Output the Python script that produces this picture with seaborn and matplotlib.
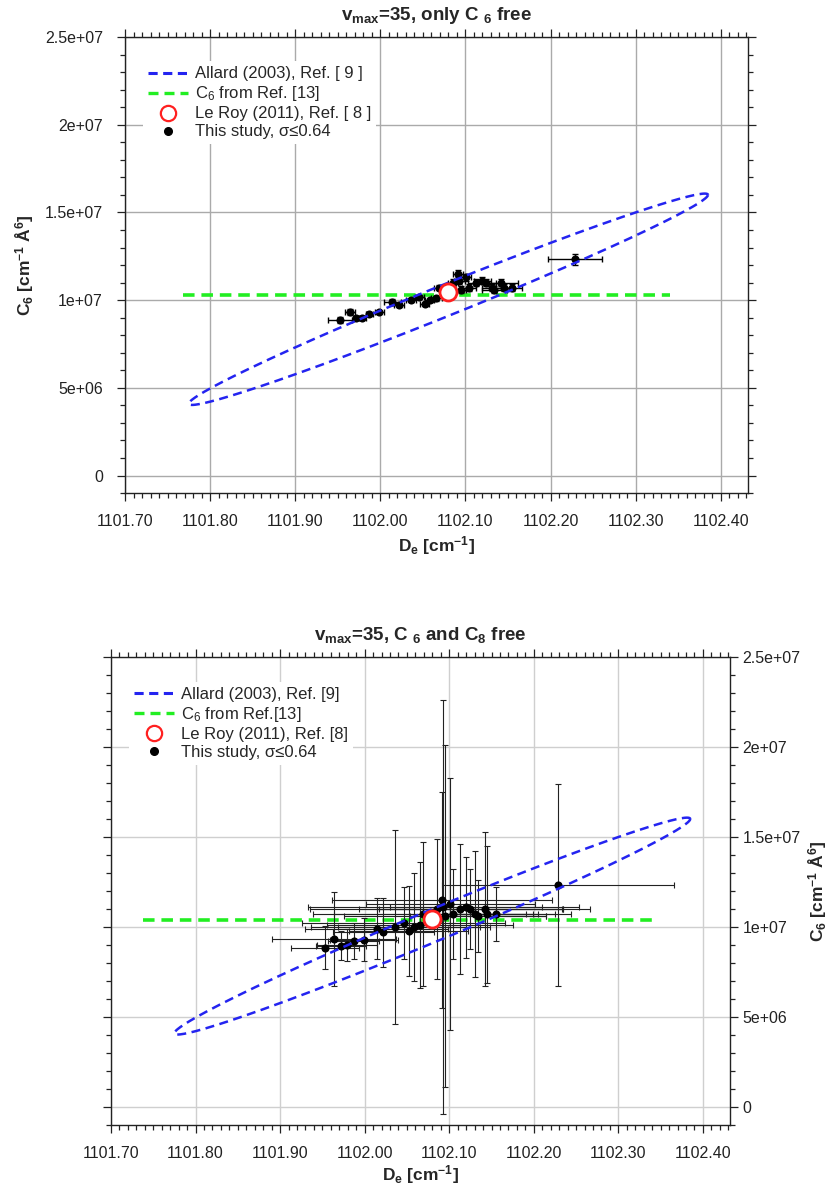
import numpy as np
import matplotlib
matplotlib.use('Agg')
import matplotlib.pyplot as plt
from matplotlib.lines import Line2D
from matplotlib.ticker import AutoMinorLocator
import seaborn as sns

# "This study" fits: De [cm-1], C6 [cm-1 A^6]
de = [1101.953, 1101.964, 1101.972, 1101.979, 1101.987, 1101.999, 1102.014, 1102.022,
      1102.036, 1102.046, 1102.052, 1102.058, 1102.066, 1102.069, 1102.085, 1102.091,
      1102.093, 1102.095, 1102.101, 1102.104, 1102.113, 1102.120, 1102.124, 1102.131,
      1102.134, 1102.142, 1102.145, 1102.155, 1102.229]
c6 = [8.86e6, 9.32e6, 8.96e6, 9.00e6, 9.20e6, 9.30e6, 9.90e6, 9.70e6,
      1.00e7, 1.02e7, 9.80e6, 1.00e7, 1.01e7, 1.07e7, 1.10e7, 1.15e7,
      1.11e7, 1.06e7, 1.13e7, 1.07e7, 1.10e7, 1.11e7, 1.10e7, 1.07e7,
      1.06e7, 1.10e7, 1.07e7, 1.07e7, 1.233e7]

# uncertainties, only C6 free
de_err_a = [0.014, 0.006, 0.004, 0.004, 0.004, 0.005, 0.010, 0.006,
            0.006, 0.005, 0.005, 0.005, 0.006, 0.006, 0.006, 0.006,
            0.006, 0.006, 0.006, 0.008, 0.010, 0.010, 0.012, 0.012,
            0.015, 0.020, 0.010, 0.012, 0.032]
c6_err_a = [1.5e5, 1.5e5, 1.0e5, 1.0e5, 1.0e5, 1.0e5, 1.5e5, 1.2e5,
            1.2e5, 1.2e5, 1.2e5, 1.2e5, 1.5e5, 1.5e5, 2.0e5, 2.0e5,
            2.0e5, 2.0e5, 2.0e5, 2.0e5, 2.0e5, 2.0e5, 2.0e5, 2.0e5,
            2.0e5, 2.0e5, 2.0e5, 2.0e5, 3.0e5]

# uncertainties, C6 and C8 free
de_err_b = [0.040, 0.073, 0.030, 0.035, 0.030, 0.040, 0.085, 0.060,
            0.100, 0.120, 0.070, 0.090, 0.110, 0.130, 0.150, 0.130,
            0.160, 0.120, 0.100, 0.140, 0.120, 0.090, 0.110, 0.060,
            0.080, 0.125, 0.080, 0.050, 0.137]
c6_err_b = [1.2e6, 2.6e6, 8.0e5, 9.0e5, 1.0e6, 1.2e6, 1.7e6, 1.9e6,
            5.4e6, 2.0e6, 2.5e6, 3.0e6, 3.5e6, 4.0e6, 3.9e6, 6.0e6,
            1.15e7, 9.5e6, 7.0e6, 2.5e6, 3.6e6, 2.8e6, 2.2e6, 3.5e6,
            2.0e6, 4.3e6, 3.8e6, 1.5e6, 5.6e6]

# Le Roy (2011)
leroy_de = [1102.080]
leroy_c6 = [1.045e7]

# Allard (2003) confidence ellipse: centre, half-width in De, half-rise and half-thickness in C6
allard_center = [1102.080, 1.005e7]
allard_half_de = 0.305
allard_half_rise = 5.95e6
allard_half_thick = 0.95e6

# C6 from Ref. [13]
c6_ref = [1.03e7, 1.04e7]
c6_ref_span = [[1101.768, 1102.340], [1101.738, 1102.343]]

xtick_vals = [1101.70, 1101.80, 1101.90, 1102.00, 1102.10, 1102.20, 1102.30, 1102.40]
xtick_labels = ['1101.70', '1101.80', '1101.90', '1102.00', '1102.10', '1102.20', '1102.30', '1102.40']
ytick_vals = [0, 5e6, 1e7, 1.5e7, 2e7, 2.5e7]
ytick_labels = ['0', '5e+06', '1e+07', '1.5e+07', '2e+07', '2.5e+07']

titles = [r'$\mathbf{v_{max}}$=35, only C $\mathbf{{}_{6}}$ free',
          r'$\mathbf{v_{max}}$=35, C $\mathbf{{}_{6}}$ and C$\mathbf{_{8}}$ free']
legend_labels = [['Allard (2003), Ref. [ 9 ]', 'C$_6$ from Ref. [13]',
                  'Le Roy (2011), Ref. [ 8 ]', 'This study, σ≤0.64'],
                 ['Allard (2003), Ref. [9]', 'C$_6$ from Ref.[13]',
                  'Le Roy (2011), Ref. [8]', 'This study, σ≤0.64']]

BLUE = '#2424f0'
GREEN = '#22ee22'
RED = '#ff2020'

sns.set_style('ticks')
plt.rcParams['font.family'] = ['Liberation Sans', 'DejaVu Sans']
plt.rcParams['mathtext.fontset'] = 'custom'
plt.rcParams['mathtext.rm'] = 'Liberation Sans'
plt.rcParams['mathtext.it'] = 'Liberation Sans'
plt.rcParams['mathtext.bf'] = 'Liberation Sans:bold'
plt.rcParams['mathtext.default'] = 'regular'


def draw_panel(ax, k, de_err, c6_err, grid_color, err_color, err_lw):
    ax.set_xlim(1101.70, 1102.432)
    ax.set_ylim(-1e6, 2.5e7)
    ax.grid(True, which='major', color=grid_color, lw=1, zorder=0)
    ax.set_axisbelow(True)

    # reference C6
    ax.plot(c6_ref_span[k], [c6_ref[k], c6_ref[k]], color=GREEN, lw=2.6,
            dashes=(3.2, 1.9), zorder=2)

    ax.errorbar(de, c6, xerr=de_err, yerr=c6_err, fmt='none', ecolor=err_color,
                elinewidth=err_lw, capsize=2.5, capthick=err_lw, zorder=3)
    sns.scatterplot(x=de, y=c6, ax=ax, color='black', s=34, edgecolor='black',
                    linewidth=0, zorder=4, legend=False)

    t = np.linspace(0, 2 * np.pi, 300)
    ex = allard_center[0] + allard_half_de * np.cos(t)
    ey = allard_center[1] + allard_half_rise * np.cos(t) + allard_half_thick * np.sin(t)
    ax.plot(ex, ey, color=BLUE, lw=1.8, dashes=(3.6, 2.2), zorder=5)

    sns.scatterplot(x=leroy_de, y=leroy_c6, ax=ax, color='white', s=150,
                    edgecolor=RED, linewidth=2.0, zorder=6, legend=False)

    ax.set_xticks(xtick_vals, xtick_labels)
    ax.set_yticks(ytick_vals, ytick_labels)
    ax.xaxis.set_minor_locator(AutoMinorLocator(10))
    ax.yaxis.set_minor_locator(AutoMinorLocator(5))
    ax.tick_params(which='both', direction='out', top=True, right=True, left=True,
                   bottom=True, labelsize=11.5, colors='#222222', width=0.9)
    ax.tick_params(which='major', length=6)
    ax.tick_params(which='minor', length=3.5)
    ax.tick_params(axis='x', which='major', pad=9)
    ax.tick_params(axis='y', which='major', pad=10)
    for sp in ax.spines.values():
        sp.set_color('#222222')
        sp.set_linewidth(1)

    ax.set_title(titles[k], fontsize=13.5, fontweight='bold', pad=12)
    ax.set_xlabel(r'D$\mathbf{_e}$ [cm$^{\mathbf{-1}}$]', fontsize=12.5,
                  fontweight='bold', labelpad=4)

    handles = [Line2D([], [], color=BLUE, lw=2.2, dashes=(3, 1.8)),
               Line2D([], [], color=GREEN, lw=2.4, dashes=(3, 1.8)),
               Line2D([], [], ls='none', marker='o', ms=11, mfc='white', mec=RED, mew=1.6),
               Line2D([], [], ls='none', marker='o', ms=5.5, mfc='black', mec='black')]
    leg = ax.legend(handles, legend_labels[k], loc='upper left',
                    bbox_to_anchor=(0.015, 0.965), fontsize=12, frameon=True,
                    framealpha=1, edgecolor='none', fancybox=False,
                    handlelength=2.4, handletextpad=0.45, labelspacing=0.18,
                    borderpad=0.3)
    leg.set_zorder(7)


fig = plt.figure(figsize=(8.3, 11.95), dpi=100)

ax1 = fig.add_axes([0.1506, 0.5874, 0.7506, 0.3816])
draw_panel(ax1, 0, de_err_a, c6_err_a, '#aaaaaa', 'black', 1.0)
ax1.set_ylabel(r'C$\mathbf{_6}$ [cm$^{\mathbf{-1}}$ Å$^{\mathbf{6}}$]', fontsize=12.5,
               fontweight='bold', labelpad=6)

ax2 = fig.add_axes([0.1337, 0.0586, 0.7458, 0.3916])
draw_panel(ax2, 1, de_err_b, c6_err_b, '#cfcfcf', '#222222', 0.8)
ax2.tick_params(axis='y', which='major', pad=3)
ax2.tick_params(axis='y', which='both', labelleft=False, labelright=True)
ax2.yaxis.set_label_position('right')
ax2.set_ylabel(r'C$\mathbf{_6}$ [cm$^{\mathbf{-1}}$ Å$^{\mathbf{6}}$]', fontsize=12.5,
               fontweight='bold', labelpad=4)
ax2.xaxis.labelpad = 2

fig.savefig('out.png', dpi=100)
